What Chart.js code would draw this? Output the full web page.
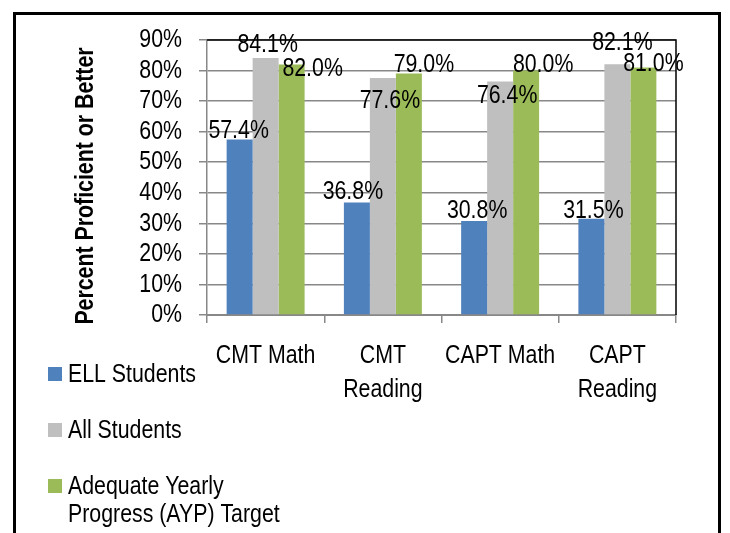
<!DOCTYPE html>
<html>
<head>
<meta charset="utf-8">
<script src="https://cdn.jsdelivr.net/npm/chart.js@4.4.0/dist/chart.umd.min.js"></script>
<style>
  html, body { margin: 0; padding: 0; background: #fff; }
  #wrap { width: 730px; height: 533px; }
</style>
</head>
<body>
<div id="wrap"><canvas id="myChart" width="730" height="533"></canvas></div>
<script>
// chart data
const categories = ['CMT Math', ['CMT', 'Reading'], 'CAPT Math', ['CAPT', 'Reading']];
const ellStudents = [57.4, 36.8, 30.8, 31.5];
const allStudents = [84.1, 77.6, 76.4, 82.1];
const aypTarget = [82.0, 79.0, 80.0, 81.0];
const seriesNames = ['ELL Students', 'All Students', 'Adequate Yearly Progress (AYP) Target'];
const yMax = 90;
const yStep = 10;
const yTitle = 'Percent Proficient or Better';

// no Arial Narrow here, so squeeze Liberation Sans horizontally
const FONT = "'Liberation Sans', Arial, sans-serif";
const SQUEEZE = 0.82;
const colors = ['#4F81BD', '#BFBFBF', '#9BBB59'];

// excel nudged some value labels around so they don't collide
const labelNudge = [
  [[-1, -9], [-4, -11], [3, -10], [2, -8]],
  [[2, -13], [7, 23], [7, 14], [5, -21]],
  [[21, 4], [15, -9], [17, -6], [10, -4]]
];
const legendLines = [['ELL Students'], ['All Students'], ['Adequate Yearly', 'Progress (AYP) Target']];

function narrowText(ctx, text, x, y, align, font) {
  ctx.save();
  ctx.font = font || ('26px ' + FONT);
  ctx.textAlign = align;
  ctx.textBaseline = 'middle';
  ctx.translate(x, y);
  ctx.scale(SQUEEZE, 1);
  ctx.fillText(text, 0, 0);
  ctx.restore();
}

const framePlugin = {
  id: 'frame',
  beforeDraw(chart) {
    const ctx = chart.ctx;
    ctx.save();
    ctx.fillStyle = '#fff';
    ctx.fillRect(0, 0, chart.width, chart.height);
    ctx.strokeStyle = '#000';
    ctx.lineWidth = 3;
    ctx.strokeRect(14.5, 13.5, 705, 600);
    ctx.restore();
  },
  afterDraw(chart) {
    const ctx = chart.ctx;
    const a = chart.chartArea;
    const xs = chart.scales.x;
    const ys = chart.scales.y;
    ctx.save();
    // plot area border, top + right
    ctx.strokeStyle = '#000';
    ctx.lineWidth = 1.5;
    ctx.beginPath();
    ctx.moveTo(a.left, a.top);
    ctx.lineTo(a.right, a.top);
    ctx.lineTo(a.right, a.bottom);
    ctx.stroke();

    ctx.fillStyle = '#000';

    // y tick labels
    ys.ticks.forEach((t, i) => {
      narrowText(ctx, t.value + '%', a.left - 25, ys.getPixelForTick(i), 'right');
    });

    // x tick labels
    xs.ticks.forEach((t, i) => {
      const lab = [].concat(chart.data.labels[i]);
      lab.forEach((s, k) => narrowText(ctx, s, xs.getPixelForTick(i), a.bottom + 41 + k * 34, 'center'));
    });

    // value labels
    chart.data.datasets.forEach((ds, i) => {
      chart.getDatasetMeta(i).data.forEach((bar, j) => {
        const n = labelNudge[i][j];
        narrowText(ctx, ds.data[j].toFixed(1) + '%', bar.x + n[0], bar.y + n[1], 'center');
      });
    });

    // y title
    ctx.save();
    ctx.translate(86, 186);
    ctx.rotate(-Math.PI / 2);
    narrowText(ctx, yTitle, 0, 0, 'center', 'bold 26px ' + FONT);
    ctx.restore();

    // legend
    legendLines.forEach((lines, i) => {
      const top = 367 + i * 56;
      ctx.fillStyle = chart.data.datasets[i].backgroundColor;
      ctx.fillRect(48, top, 14, 14);
      ctx.fillStyle = '#000';
      lines.forEach((s, k) => narrowText(ctx, s, 68, top + 8 + k * 28, 'left'));
    });
    ctx.restore();
  }
};

const ctx = document.getElementById('myChart');
new Chart(ctx, {
  type: 'bar',
  data: {
    labels: categories,
    datasets: [
      { label: seriesNames[0], data: ellStudents, backgroundColor: colors[0] },
      { label: seriesNames[1], data: allStudents, backgroundColor: colors[1] },
      { label: seriesNames[2], data: aypTarget, backgroundColor: colors[2] }
    ]
  },
  options: {
    responsive: false,
    animation: false,
    categoryPercentage: 0.665,
    barPercentage: 1.0,
    layout: { padding: { left: 0, right: 54, top: 40, bottom: 0 } },
    plugins: {
      legend: { display: false },
      tooltip: { enabled: false }
    },
    scales: {
      x: {
        afterFit(scale) { scale.height = 218; },
        grid: { display: true, drawOnChartArea: false, tickLength: 8, color: '#888', lineWidth: 1.5 },
        border: { color: '#888', width: 2 },
        ticks: { display: false, autoSkip: false, maxRotation: 0 }
      },
      y: {
        min: 0,
        max: yMax,
        afterFit(scale) { scale.width = 207; },
        grid: { color: '#888', lineWidth: 1.5, tickLength: 8 },
        border: { color: '#888', width: 1.5 },
        ticks: { display: false, stepSize: yStep, autoSkip: false }
      }
    }
  },
  plugins: [framePlugin]
});
</script>
</body>
</html>
